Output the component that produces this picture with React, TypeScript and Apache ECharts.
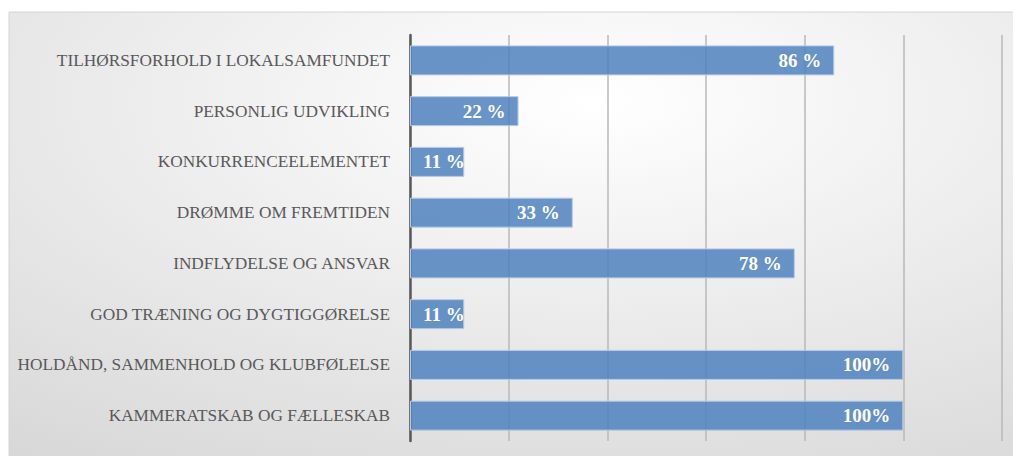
import React, { useEffect, useRef } from "react";
import * as echarts from "echarts";

const categories = [
  "TILHØRSFORHOLD I LOKALSAMFUNDET",
  "PERSONLIG UDVIKLING",
  "KONKURRENCEELEMENTET",
  "DRØMME OM FREMTIDEN",
  "INDFLYDELSE OG ANSVAR",
  "GOD TRÆNING OG DYGTIGGØRELSE",
  "HOLDÅND, SAMMENHOLD OG KLUBFØLELSE",
  "KAMMERATSKAB OG FÆLLESKAB",
];
const values = [0.86, 0.22, 0.11, 0.33, 0.78, 0.11, 1.0, 1.0];
const valueLabels = ["86 %", "22 %", "11 %", "33 %", "78 %", "11 %", "100%", "100%"];
const axisMin = 0;
const axisMax = 1.2;
const axisInterval = 0.2;

export default function App() {
  const ref = useRef<HTMLDivElement>(null);
  useEffect(() => {
    document.body.style.margin = "0";
    const chart = echarts.init(ref.current!, undefined, { renderer: "svg" });
    const font = "'Liberation Serif', 'DejaVu Serif', serif";
    chart.setOption({
      animation: false,
      graphic: [
        {
          type: "rect",
          silent: true,
          z: -10,
          shape: { x: 9, y: 12, width: 1010, height: 450 },
          style: {
            fill: new echarts.graphic.RadialGradient(0.58, 0.2, 1.55, [
              { offset: 0, color: "#ffffff" },
              { offset: 1, color: "#c0c0c0" },
            ]),
            stroke: "#d4d4d4",
            lineWidth: 1,
          },
        },
      ],
      grid: { left: 410, right: 11, top: 35, bottom: 15, containLabel: false },
      xAxis: {
        type: "value",
        min: axisMin,
        max: axisMax,
        interval: axisInterval,
        axisLabel: { show: false },
        axisLine: { show: false },
        axisTick: { show: false },
        splitLine: { show: true, lineStyle: { color: "#b9b9b9", width: 1.5 } },
      },
      yAxis: {
        type: "category",
        inverse: true,
        data: categories,
        axisLine: { show: true, lineStyle: { color: "#595959", width: 2.5 } },
        axisTick: { show: false },
        axisLabel: {
          color: "#595959",
          fontFamily: font,
          fontSize: 17.3,
          margin: 20,
        },
      },
      series: [
        {
          type: "bar",
          barWidth: 30,
          data: values.map((v, i) => ({
            value: v,
            label: {
              position: v < 0.15 ? "insideLeft" : "insideRight",
              formatter: valueLabels[i],
            },
          })),
          itemStyle: {
            color: "rgba(79,129,189,0.85)",
            borderColor: "#b7cbe6",
            borderWidth: 1,
          },
          label: {
            show: true,
            color: "#ffffff",
            fontFamily: font,
            fontWeight: "bold",
            fontSize: 19,
            distance: 13,
          },
        },
      ],
    });
    return () => chart.dispose();
  }, []);
  return <div ref={ref} style={{ width: 1013, height: 456 }} />;
}
